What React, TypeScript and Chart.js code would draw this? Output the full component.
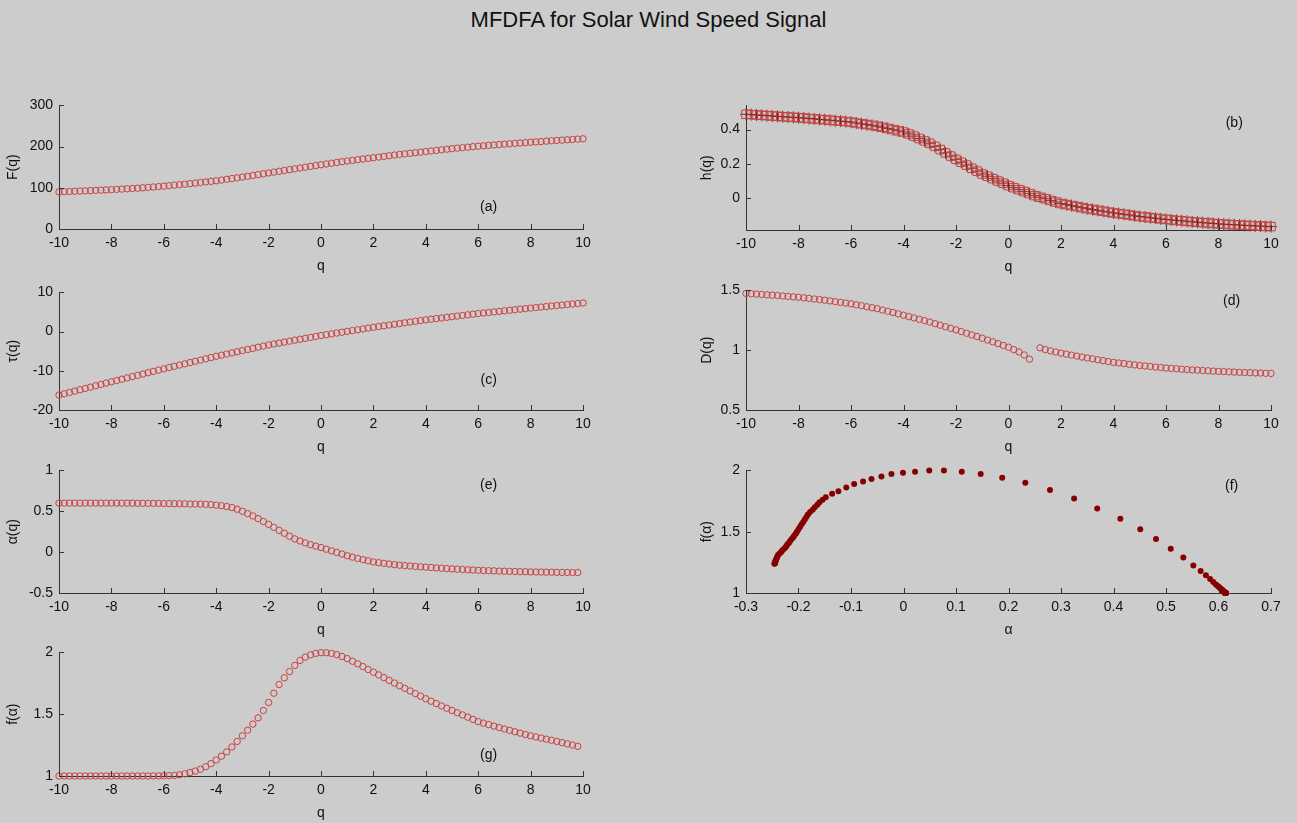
import React, { useEffect, useRef } from "react";
import { Chart, registerables } from "chart.js";

Chart.register(...registerables);

// ---------------- data ----------------
const Q_VALUES = [
  -10, -9.8, -9.6, -9.4, -9.2, -9, -8.8, -8.6, -8.4, -8.2, -8, -7.8, -7.6, -7.4, -7.2, -7,
  -6.8, -6.6, -6.4, -6.2, -6, -5.8, -5.6, -5.4, -5.2, -5, -4.8, -4.6, -4.4, -4.2, -4,
  -3.8, -3.6, -3.4, -3.2, -3, -2.8, -2.6, -2.4, -2.2, -2, -1.8, -1.6, -1.4, -1.2, -1,
  -0.8, -0.6, -0.4, -0.2, 0, 0.2, 0.4, 0.6, 0.8, 1, 1.2, 1.4, 1.6, 1.8, 2, 2.2, 2.4, 2.6,
  2.8, 3, 3.2, 3.4, 3.6, 3.8, 4, 4.2, 4.4, 4.6, 4.8, 5, 5.2, 5.4, 5.6, 5.8, 6, 6.2, 6.4,
  6.6, 6.8, 7, 7.2, 7.4, 7.6, 7.8, 8, 8.2, 8.4, 8.6, 8.8, 9, 9.2, 9.4, 9.6, 9.8, 10,
];

// (a) F(q)
const F_Q = [
  90.0, 90.5, 91.0, 91.5, 92.0, 92.5, 93.1, 93.7, 94.3, 94.9, 95.5, 96.2, 96.9, 97.6, 98.3, 99.0,
  100.0, 101.0, 102.0, 103.0, 104.0, 105.2, 106.4, 107.6, 108.8, 110.0, 111.4, 112.8, 114.2, 115.6, 117.0,
  118.8, 120.6, 122.4, 124.2, 126.0, 128, 130, 132, 134, 136, 138, 140, 142, 144, 146,
  148, 150, 152, 154, 156, 157.8, 159.6, 161.4, 163.2, 165, 166.6, 168.2, 169.8, 171.4, 173,
  174.6, 176.2, 177.8, 179.4, 181, 182.4, 183.8, 185.2, 186.6, 188, 189.4, 190.8, 192.2, 193.6, 195,
  196.2, 197.4, 198.6, 199.8, 201, 202, 203, 204, 205, 206, 206.9, 207.8, 208.7, 209.6, 210.5,
  211.4, 212.3, 213.2, 214.1, 215, 215.8, 216.6, 217.4, 218.2, 219,
];

// (b) h(q)
const H_Q = [
  0.49, 0.488, 0.486, 0.484, 0.482, 0.48, 0.478, 0.476, 0.474, 0.472, 0.47,
  0.468, 0.465, 0.463, 0.46, 0.458, 0.455, 0.452, 0.45, 0.447, 0.444,
  0.439, 0.434, 0.43, 0.425, 0.42, 0.414, 0.407, 0.4, 0.393, 0.386,
  0.375, 0.362, 0.348, 0.334, 0.32, 0.302, 0.283, 0.264, 0.245, 0.226,
  0.209, 0.192, 0.174, 0.157, 0.14, 0.127, 0.113, 0.099, 0.086, 0.072,
  0.06, 0.048, 0.037, 0.025, 0.013, 0.004, -0.005, -0.015, -0.024, -0.033,
  -0.039, -0.045, -0.051, -0.057, -0.063, -0.068, -0.073, -0.078, -0.083, -0.088,
  -0.092, -0.096, -0.1, -0.105, -0.109, -0.112, -0.116, -0.119, -0.123, -0.126,
  -0.129, -0.132, -0.134, -0.137, -0.14, -0.142, -0.145, -0.147, -0.15, -0.152,
  -0.154, -0.156, -0.157, -0.159, -0.161, -0.162, -0.164, -0.165, -0.167, -0.168,
];

// (c) tau(q)
const TAU_Q = [
  -16.2, -15.86, -15.52, -15.18, -14.84, -14.5, -14.16, -13.82, -13.48, -13.14, -12.8,
  -12.47, -12.14, -11.81, -11.48, -11.15, -10.82, -10.49, -10.16, -9.83, -9.5,
  -9.18, -8.86, -8.54, -8.22, -7.9, -7.58, -7.26, -6.94, -6.62, -6.3,
  -6.01, -5.72, -5.43, -5.14, -4.85, -4.56, -4.27, -3.98, -3.69, -3.4,
  -3.16, -2.92, -2.68, -2.44, -2.2, -1.96, -1.72, -1.48, -1.24, -1.0,
  -0.79, -0.58, -0.37, -0.16, 0.05, 0.26, 0.47, 0.68, 0.89, 1.1,
  1.29, 1.48, 1.67, 1.86, 2.05, 2.24, 2.43, 2.62, 2.81, 3.0,
  3.16, 3.32, 3.48, 3.64, 3.8, 3.96, 4.12, 4.28, 4.44, 4.6,
  4.74, 4.88, 5.02, 5.16, 5.3, 5.44, 5.58, 5.72, 5.86, 6.0,
  6.13, 6.26, 6.39, 6.52, 6.65, 6.78, 6.91, 7.04, 7.17, 7.3,
];

// (d) D(q)  (no value at q = 1)
const D_Q = [
  1.475, 1.472, 1.469, 1.466, 1.463, 1.46, 1.457, 1.453, 1.45, 1.446, 1.443,
  1.438, 1.433, 1.428, 1.423, 1.418, 1.412, 1.406, 1.4, 1.394, 1.388,
  1.38, 1.372, 1.363, 1.355, 1.347, 1.336, 1.325, 1.315, 1.304, 1.293,
  1.281, 1.27, 1.258, 1.247, 1.235, 1.222, 1.209, 1.196, 1.183, 1.17,
  1.156, 1.142, 1.128, 1.114, 1.1, 1.085, 1.07, 1.055, 1.04, 1.025,
  1.005, 0.985, 0.96, 0.925, null, 1.02, 1.005, 0.995, 0.985, 0.975,
  0.967, 0.959, 0.951, 0.943, 0.935, 0.928, 0.92, 0.913, 0.905, 0.898,
  0.893, 0.888, 0.882, 0.877, 0.872, 0.868, 0.864, 0.859, 0.855, 0.851,
  0.848, 0.845, 0.841, 0.838, 0.835, 0.833, 0.83, 0.828, 0.825, 0.823,
  0.821, 0.819, 0.817, 0.815, 0.813, 0.812, 0.81, 0.809, 0.807, 0.806,
];

// (e) alpha(q), q = -10 .. 9.8
const ALPHA_Q = [
  0.6, 0.6, 0.6, 0.6, 0.6, 0.6,
  0.6, 0.6, 0.6, 0.6, 0.6,
  0.6, 0.599, 0.599, 0.599, 0.598,
  0.598, 0.597, 0.597, 0.596, 0.595,
  0.594, 0.593, 0.592, 0.591, 0.589,
  0.588, 0.587, 0.585, 0.581, 0.575,
  0.568, 0.558, 0.545, 0.525, 0.5,
  0.472, 0.442, 0.41, 0.376, 0.34,
  0.303, 0.267, 0.231, 0.195, 0.162,
  0.136, 0.113, 0.092, 0.073, 0.056,
  0.036, 0.016, -0.004, -0.024, -0.044,
  -0.061, -0.077, -0.092, -0.106, -0.12,
  -0.129, -0.137, -0.145, -0.153, -0.16,
  -0.165, -0.17, -0.175, -0.18, -0.184,
  -0.188, -0.193, -0.197, -0.201, -0.205,
  -0.209, -0.212, -0.216, -0.219, -0.222,
  -0.225, -0.227, -0.229, -0.232, -0.234,
  -0.236, -0.237, -0.239, -0.24, -0.242,
  -0.243, -0.244, -0.245, -0.246, -0.247,
  -0.248, -0.249, -0.249, -0.25,
];

// (g) f(alpha) against q, q = -10 .. 9.8
const FALPHA_Q = [
  1.0, 1.0, 1.0, 1.0, 1.0, 1.0,
  1.0, 1.0, 1.0, 1.0, 1.0,
  1.0, 1.0, 1.0, 1.0, 1.0,
  1.0, 1.0, 1.001, 1.001, 1.002,
  1.003, 1.005, 1.01, 1.018, 1.028,
  1.04, 1.055, 1.075, 1.1, 1.13,
  1.16, 1.195, 1.235, 1.28, 1.325,
  1.37, 1.42, 1.47, 1.53, 1.595,
  1.67, 1.74, 1.795, 1.845, 1.895,
  1.935, 1.962, 1.98, 1.992, 1.998,
  1.997, 1.992, 1.982, 1.967, 1.95,
  1.929, 1.907, 1.885, 1.862, 1.84,
  1.818, 1.796, 1.774, 1.752, 1.73,
  1.709, 1.688, 1.667, 1.646, 1.625,
  1.605, 1.586, 1.567, 1.548, 1.53,
  1.512, 1.494, 1.476, 1.458, 1.44,
  1.428, 1.416, 1.404, 1.392, 1.38,
  1.369, 1.358, 1.347, 1.336, 1.325,
  1.316, 1.307, 1.298, 1.289, 1.28,
  1.27, 1.26, 1.25, 1.24,
];

// (f) multifractal spectrum: alpha (x) and f(alpha) (y)
const SPEC_ALPHA = [
  0.614, 0.614, 0.614, 0.614, 0.614, 0.614, 0.614, 0.613, 0.613, 0.613,
  0.613, 0.613, 0.613, 0.613, 0.613, 0.612, 0.612, 0.612, 0.612, 0.612,
  0.612, 0.611, 0.611, 0.61, 0.609, 0.609, 0.608, 0.606, 0.604, 0.602, 0.599,
  0.595, 0.59, 0.584, 0.576, 0.566, 0.552, 0.533, 0.509, 0.481, 0.451,
  0.413, 0.369, 0.325, 0.279, 0.232, 0.188, 0.147, 0.111, 0.077, 0.049,
  0.022, -0.001, -0.023, -0.042, -0.061, -0.077, -0.094, -0.109, -0.124, -0.136, -0.148,
  -0.154, -0.16, -0.164, -0.169, -0.173, -0.178, -0.182, -0.185, -0.188,
  -0.191, -0.194, -0.197, -0.2, -0.203, -0.205, -0.208, -0.21, -0.213, -0.216,
  -0.218, -0.221, -0.223, -0.225, -0.228, -0.231, -0.233, -0.236, -0.239, -0.24,
  -0.241, -0.242, -0.243, -0.244, -0.244, -0.245, -0.245, -0.245, -0.246,
];
const SPEC_F = [
  1.0, 1.0, 1.0, 1.0, 1.0, 1.0, 1.0, 1.001, 1.001, 1.001,
  1.001, 1.001, 1.002, 1.002, 1.002, 1.002, 1.003, 1.003, 1.003, 1.004,
  1.005, 1.006, 1.008, 1.01, 1.013, 1.017, 1.022, 1.028, 1.035, 1.045, 1.055,
  1.07, 1.09, 1.115, 1.145, 1.18, 1.225, 1.29, 1.36, 1.44, 1.52,
  1.605, 1.69, 1.77, 1.84, 1.9, 1.94, 1.97, 1.99, 2.0, 2.0,
  1.99, 1.98, 1.97, 1.95, 1.93, 1.91, 1.89, 1.86, 1.83, 1.81, 1.78,
  1.76, 1.74, 1.72, 1.7, 1.68, 1.66, 1.64, 1.62, 1.6,
  1.58, 1.56, 1.54, 1.52, 1.5, 1.485, 1.47, 1.455, 1.44, 1.425,
  1.41, 1.397, 1.384, 1.371, 1.358, 1.346, 1.334, 1.322, 1.31, 1.299,
  1.289, 1.279, 1.27, 1.261, 1.253, 1.247, 1.243, 1.24, 1.238,
];

// tick values
const Q_TICKS = [-10, -8, -6, -4, -2, 0, 2, 4, 6, 8, 10];
const F_TICKS = [0, 100, 200, 300];
const H_TICKS = [0, 0.2, 0.4];
const TAU_TICKS = [-20, -10, 0, 10];
const D_TICKS = [0.5, 1, 1.5];
const ALPHA_TICKS = [-0.5, 0, 0.5, 1];
const FA_TICKS = [1, 1.5, 2];
const SPEC_X_TICKS = [-0.3, -0.2, -0.1, 0, 0.1, 0.2, 0.3, 0.4, 0.5, 0.6, 0.7];

// ---------------- styling ----------------
const BG = "#cccccc";
const TEXT = "#111111";
const AXIS = "#333333";
const RED = "rgb(205,62,62)";
const DARK_RED = "rgb(135,0,0)";
const FAMILY = "'Liberation Sans', Arial, Helvetica, sans-serif";
const FONT = { family: FAMILY, size: 14 };

const LEFT = { left: 0, width: 600, yW: 59, padR: 17, yTitlePad: 5 };
const RIGHT = { left: 684, width: 607, yW: 62, padR: 20, yTitlePad: 15 };
const PAD_T = 12;
const X_H = 50;

const PANELS: any[] = [
  { col: LEFT, plotTop: 103, plotH: 126, xs: Q_VALUES, ys: F_Q, kind: "circle",
    xMin: -10, xMax: 10, yMin: 0, yMax: 300, xTicks: Q_TICKS, yTicks: F_TICKS,
    xTitle: "q", yTitle: "F(q)", label: "(a)", labelAt: [6.4, 52] },
  { col: RIGHT, plotTop: 103, plotH: 127, xs: Q_VALUES, ys: H_Q, kind: "square",
    xMin: -10, xMax: 10, yMin: -0.188, yMax: 0.542, xTicks: Q_TICKS, yTicks: H_TICKS,
    xTitle: "q", yTitle: "h(q)", label: "(b)", labelAt: [8.6, 0.44] },
  { col: LEFT, plotTop: 290, plotH: 120, xs: Q_VALUES, ys: TAU_Q, kind: "circle",
    xMin: -10, xMax: 10, yMin: -20, yMax: 10, xTicks: Q_TICKS, yTicks: TAU_TICKS,
    xTitle: "q", yTitle: "τ(q)", label: "(c)", labelAt: [6.4, -12.5] },
  { col: RIGHT, plotTop: 288, plotH: 122, xs: Q_VALUES, ys: D_Q, kind: "circle",
    xMin: -10, xMax: 10, yMin: 0.5, yMax: 1.5, xTicks: Q_TICKS, yTicks: D_TICKS,
    xTitle: "q", yTitle: "D(q)", label: "(d)", labelAt: [8.5, 1.41] },
  { col: LEFT, plotTop: 468, plotH: 125, xs: Q_VALUES, ys: ALPHA_Q, kind: "circle",
    xMin: -10, xMax: 10, yMin: -0.5, yMax: 1, xTicks: Q_TICKS, yTicks: ALPHA_TICKS,
    xTitle: "q", yTitle: "α(q)", label: "(e)", labelAt: [6.4, 0.82] },
  { col: RIGHT, plotTop: 468, plotH: 125, xs: SPEC_ALPHA, ys: SPEC_F, kind: "dot",
    xMin: -0.3, xMax: 0.7, yMin: 1, yMax: 2, xTicks: SPEC_X_TICKS, yTicks: FA_TICKS,
    xTitle: "α", yTitle: "f(α)", label: "(f)", labelAt: [0.625, 1.87] },
  { col: LEFT, plotTop: 650, plotH: 126, xs: Q_VALUES, ys: FALPHA_Q, kind: "circle",
    xMin: -10, xMax: 10, yMin: 1, yMax: 2, xTicks: Q_TICKS, yTicks: FA_TICKS,
    xTitle: "q", yTitle: "f(α)", label: "(g)", labelAt: [6.4, 1.167] },
];

const fmt = (v: number) => String(Math.round(v * 1000) / 1000);

const decorPlugin = {
  id: "decor",
  afterDraw(chart: any, _args: any, opts: any) {
    const { ctx, chartArea } = chart;
    const xs = chart.scales.x;
    const ys = chart.scales.y;
    ctx.save();
    ctx.strokeStyle = AXIS;
    ctx.lineWidth = 1;
    ctx.beginPath();
    for (const t of xs.ticks) {
      const px = Math.round(xs.getPixelForValue(t.value)) + 0.5;
      ctx.moveTo(px, chartArea.bottom);
      ctx.lineTo(px, chartArea.bottom - 5);
    }
    for (const t of ys.ticks) {
      const py = Math.round(ys.getPixelForValue(t.value)) + 0.5;
      ctx.moveTo(chartArea.left, py);
      ctx.lineTo(chartArea.left + 5, py);
    }
    ctx.stroke();
    if (opts && opts.text) {
      ctx.fillStyle = TEXT;
      ctx.font = `14px ${FAMILY}`;
      ctx.textAlign = "center";
      ctx.textBaseline = "middle";
      ctx.fillText(opts.text, xs.getPixelForValue(opts.x), ys.getPixelForValue(opts.y));
    }
    ctx.restore();
  },
};

function makeDatasets(p: any) {
  const pts = p.ys.map((y: number | null, i: number) => ({ x: p.xs[i], y }));
  if (p.kind === "square") {
    return [
      { data: pts, pointStyle: "rect", pointRadius: 6, pointBorderWidth: 1,
        pointBorderColor: RED, pointBackgroundColor: "rgba(0,0,0,0)", clip: false },
      { data: pts, pointStyle: "cross", pointRadius: 6, pointBorderWidth: 1,
        pointBorderColor: "rgba(100,15,15,0.8)", pointBackgroundColor: "rgba(0,0,0,0)", clip: false },
    ];
  }
  if (p.kind === "dot") {
    return [
      { data: pts, pointStyle: "circle", pointRadius: 3, pointBorderWidth: 0,
        pointBorderColor: DARK_RED, pointBackgroundColor: DARK_RED, clip: false },
    ];
  }
  return [
    { data: pts, pointStyle: "circle", pointRadius: 3.2, pointBorderWidth: 1,
      pointBorderColor: RED, pointBackgroundColor: "rgba(0,0,0,0)", clip: false },
  ];
}

function Panel({ p }: { p: any }) {
  const ref = useRef<HTMLCanvasElement | null>(null);
  const height = PAD_T + p.plotH + X_H;
  const top = p.plotTop - PAD_T;
  useEffect(() => {
    if (!ref.current) return;
    const col = p.col;
    const chart = new Chart(ref.current, {
      type: "scatter",
      data: { datasets: makeDatasets(p) as any },
      options: {
        animation: false,
        responsive: false,
        devicePixelRatio: 1,
        events: [],
        layout: { padding: { left: 0, right: col.padR, top: PAD_T, bottom: 0 } },
        plugins: {
          legend: { display: false },
          tooltip: { enabled: false },
          decor: { text: p.label, x: p.labelAt[0], y: p.labelAt[1] },
        } as any,
        scales: {
          x: {
            type: "linear",
            min: p.xMin,
            max: p.xMax,
            afterBuildTicks: (s: any) => {
              s.ticks = p.xTicks.map((v: number) => ({ value: v }));
            },
            afterFit: (s: any) => {
              s.height = X_H;
            },
            grid: { display: false, drawTicks: false },
            border: { display: true, color: AXIS, width: 1 },
            ticks: {
              color: TEXT, font: FONT, padding: 6, maxRotation: 0, minRotation: 0,
              autoSkip: false, callback: (v: any) => fmt(Number(v)),
            },
            title: {
              display: true, text: p.xTitle, color: TEXT, font: FONT,
              padding: { top: 0, bottom: 4 },
            },
          },
          y: {
            type: "linear",
            min: p.yMin,
            max: p.yMax,
            afterBuildTicks: (s: any) => {
              s.ticks = p.yTicks.map((v: number) => ({ value: v }));
            },
            afterFit: (s: any) => {
              s.width = col.yW;
            },
            grid: { display: false, drawTicks: false },
            border: { display: true, color: AXIS, width: 1 },
            ticks: {
              color: TEXT, font: FONT, padding: 6, autoSkip: false,
              callback: (v: any) => fmt(Number(v)),
            },
            title: {
              display: true, text: p.yTitle, color: TEXT, font: FONT,
              padding: { top: col.yTitlePad, bottom: 0 },
            },
          },
        } as any,
      },
      plugins: [decorPlugin],
    });
    return () => chart.destroy();
  }, []);
  return (
    <canvas
      ref={ref}
      width={p.col.width}
      height={height}
      style={{ position: "absolute", left: p.col.left, top, width: p.col.width, height }}
    />
  );
}

export default function App() {
  return (
    <div
      style={{
        position: "fixed", left: 0, top: 0, width: 1297, height: 823,
        background: BG, overflow: "hidden",
      }}
    >
      <div
        style={{
          position: "absolute", left: 0, top: 8, width: 1297, textAlign: "center",
          fontFamily: FAMILY, fontSize: 22, lineHeight: "24px", color: "#111",
        }}
      >
        MFDFA for Solar Wind Speed Signal
      </div>
      {PANELS.map((p, i) => (
        <Panel key={i} p={p} />
      ))}
    </div>
  );
}
